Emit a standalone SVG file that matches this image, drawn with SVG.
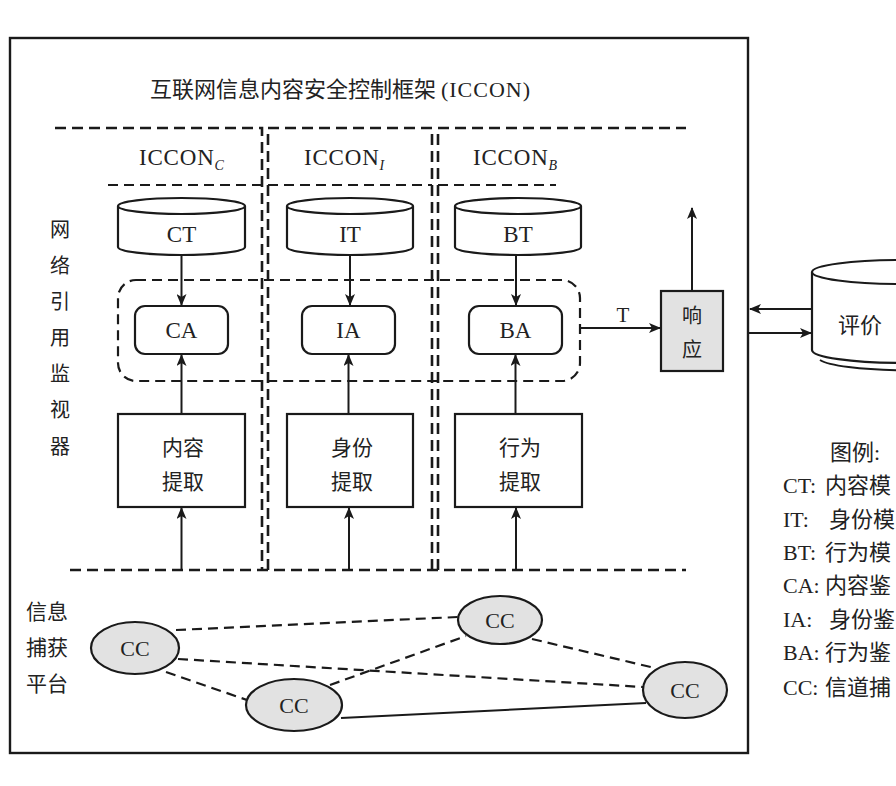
<svg xmlns="http://www.w3.org/2000/svg" width="896" height="786" viewBox="0 0 896 786">
<defs>
<style>
.ln{stroke:#1a1a1a;stroke-width:2;fill:none}
.ds{stroke:#1a1a1a;stroke-width:2.2;fill:none;stroke-dasharray:10 6}
.dsb{stroke:#1a1a1a;stroke-width:2.6;fill:none;stroke-dasharray:11 6}
.box{stroke:#1a1a1a;stroke-width:2.2;fill:#fff}
.gray{stroke:#1a1a1a;stroke-width:2.2;fill:#e2e2e2}
.se{font-family:"Liberation Serif","DejaVu Serif",serif;fill:#222}
.zh{font-family:"Noto Sans CJK SC","Noto Sans",sans-serif;fill:#222}
.arr{stroke:#1a1a1a;stroke-width:2;fill:none;marker-end:url(#ah)}
</style>
<marker id="ah" viewBox="0 0 12 10" refX="11" refY="5" markerWidth="12" markerHeight="10" markerUnits="userSpaceOnUse" orient="auto">
<path d="M0,0 L12,5 L0,10 L3,5 Z" fill="#1a1a1a"/>
</marker>
</defs>
<rect width="896" height="786" fill="#fff"/>
<rect id="frame" x="10" y="38" width="738" height="715" fill="none" stroke="#1a1a1a" stroke-width="2.4"/>

<g id="title"><text class="zh" x="150" y="97" font-size="22">互联网信息内容安全控制框架 <tspan class="se" letter-spacing="1">(ICCON)</tspan></text></g>

<g id="columns">
<path class="dsb" d="M55,128 H262 V570"/>
<path class="dsb" d="M268,570 V128 H432 V570"/>
<path class="dsb" d="M438,570 V128 H686"/>
<path class="ds" d="M108,185 H262 M268,185 H432 M438,185 H556"/>
<path class="dsb" d="M70,570 H686"/>
</g>

<g id="labels-col">
<text class="se" x="139" y="165" font-size="23" letter-spacing="0.8">ICCON<tspan font-size="14" font-style="italic" dy="5">C</tspan></text>
<text class="se" x="304" y="165" font-size="23" letter-spacing="0.8">ICCON<tspan font-size="14" font-style="italic" dy="5">I</tspan></text>
<text class="se" x="473" y="165" font-size="23" letter-spacing="0.8">ICCON<tspan font-size="14" font-style="italic" dy="5">B</tspan></text>
</g>

<g id="monitor-label" class="zh" font-size="20">
<text x="50" y="237">网</text><text x="50" y="273">络</text><text x="50" y="309">引</text><text x="50" y="345">用</text><text x="50" y="381">监</text><text x="50" y="417">视</text><text x="50" y="454">器</text>
</g>

<g id="CT">
<path class="box" d="M118,206 V247 A63.5,8 0 0 0 245,247 V206"/>
<ellipse class="box" cx="181.5" cy="206" rx="63.5" ry="8"/>
<text class="se" x="181.5" y="242" font-size="23" text-anchor="middle">CT</text>
</g>
<g id="IT">
<path class="box" d="M287,206 V247 A63,8 0 0 0 413,247 V206"/>
<ellipse class="box" cx="350" cy="206" rx="63" ry="8"/>
<text class="se" x="350" y="242" font-size="23" text-anchor="middle">IT</text>
</g>
<g id="BT">
<path class="box" d="M455,206 V247 A63,8 0 0 0 581,247 V206"/>
<ellipse class="box" cx="518" cy="206" rx="63" ry="8"/>
<text class="se" x="518" y="242" font-size="23" text-anchor="middle">BT</text>
</g>

<g id="analyzers">
<rect class="ds" x="118" y="280" width="462" height="101" rx="18"/>
</g>
<g id="CA">
<rect class="box" x="135" y="306" width="93" height="48" rx="10"/>
<text class="se" x="181.5" y="338" font-size="23" text-anchor="middle">CA</text>
</g>
<g id="IA">
<rect class="box" x="302" y="306" width="93" height="48" rx="10"/>
<text class="se" x="348.5" y="338" font-size="23" text-anchor="middle">IA</text>
</g>
<g id="BA">
<rect class="box" x="469" y="306" width="93" height="48" rx="10"/>
<text class="se" x="515.5" y="338" font-size="23" text-anchor="middle">BA</text>
</g>

<g id="ext-C">
<rect class="box" x="118" y="414" width="127" height="93"/>
<text class="zh" x="183" y="455" font-size="21" text-anchor="middle">内容</text>
<text class="zh" x="183" y="489" font-size="21" text-anchor="middle">提取</text>
</g>
<g id="ext-I">
<rect class="box" x="287" y="414" width="126" height="93"/>
<text class="zh" x="352" y="455" font-size="21" text-anchor="middle">身份</text>
<text class="zh" x="352" y="489" font-size="21" text-anchor="middle">提取</text>
</g>
<g id="ext-B">
<rect class="box" x="455" y="414" width="127" height="93"/>
<text class="zh" x="520" y="455" font-size="21" text-anchor="middle">行为</text>
<text class="zh" x="520" y="489" font-size="21" text-anchor="middle">提取</text>
</g>

<g id="response">
<rect class="gray" x="661" y="291" width="62" height="80"/>
<text class="zh" x="692" y="323" font-size="20" text-anchor="middle">响</text>
<text class="zh" x="692" y="357" font-size="20" text-anchor="middle">应</text>
</g>

<g id="eval">
<path class="box" d="M812,272 V350 A90,13 0 0 0 992,350 V272"/>
<path class="ln" d="M820,360 A90,13 0 0 0 992,362"/>
<ellipse class="box" cx="902" cy="272" rx="90" ry="12"/>
<text class="zh" x="838" y="333" font-size="22">评价</text>
</g>

<g id="connectors">
<line class="arr" x1="181.5" y1="255" x2="181.5" y2="305"/>
<line class="arr" x1="350" y1="255" x2="350" y2="305"/>
<line class="arr" x1="516" y1="255" x2="516" y2="305"/>
<line class="arr" x1="181.5" y1="414" x2="181.5" y2="355"/>
<line class="arr" x1="348.5" y1="414" x2="348.5" y2="355"/>
<line class="arr" x1="515.5" y1="414" x2="515.5" y2="355"/>
<line class="arr" x1="181.5" y1="570" x2="181.5" y2="508"/>
<line class="arr" x1="349" y1="570" x2="349" y2="508"/>
<line class="arr" x1="516" y1="570" x2="516" y2="508"/>
<line class="arr" x1="580" y1="328" x2="660" y2="328"/>
<text class="se" x="623" y="322" font-size="21" text-anchor="middle">T</text>
<line class="arr" x1="692" y1="291" x2="692" y2="208"/>
<line class="arr" x1="812" y1="309" x2="750" y2="309"/>
<line class="arr" x1="748" y1="333" x2="811" y2="333"/>
<line class="ds" x1="176" y1="630" x2="458" y2="617"/>
<line class="ds" x1="178" y1="659" x2="643" y2="687"/>
<line class="ds" x1="166" y1="672" x2="247" y2="700"/>
<line class="ds" x1="330" y1="685" x2="466" y2="636"/>
<line class="ds" x1="532" y1="639" x2="655" y2="668"/>
<line class="ln" x1="341" y1="718" x2="646" y2="703"/>
</g>

<g id="platform-label" class="zh" font-size="21">
<text x="26" y="619">信息</text><text x="26" y="655">捕获</text><text x="26" y="691">平台</text>
</g>

<g id="CC1"><ellipse class="gray" cx="135" cy="648" rx="44" ry="26"/><text class="se" x="135" y="656" font-size="22" text-anchor="middle">CC</text></g>
<g id="CC2"><ellipse class="gray" cx="500" cy="620" rx="42" ry="24"/><text class="se" x="500" y="628" font-size="22" text-anchor="middle">CC</text></g>
<g id="CC3"><ellipse class="gray" cx="294" cy="705" rx="48" ry="26"/><text class="se" x="294" y="713" font-size="22" text-anchor="middle">CC</text></g>
<g id="CC4"><ellipse class="gray" cx="685" cy="690" rx="42" ry="28"/><text class="se" x="685" y="698" font-size="22" text-anchor="middle">CC</text></g>

<g id="legend" font-size="22">
<text class="zh" x="830" y="460">图例<tspan class="se">:</tspan></text>
<text class="se" x="783" y="493">CT:</text><text class="zh" x="825" y="493">内容模</text>
<text class="se" x="783" y="527">IT:</text><text class="zh" x="829" y="527">身份模</text>
<text class="se" x="783" y="560">BT:</text><text class="zh" x="825" y="560">行为模</text>
<text class="se" x="783" y="593">CA:</text><text class="zh" x="825" y="593">内容鉴</text>
<text class="se" x="783" y="627">IA:</text><text class="zh" x="829" y="627">身份鉴</text>
<text class="se" x="783" y="660">BA:</text><text class="zh" x="825" y="660">行为鉴</text>
<text class="se" x="783" y="695">CC:</text><text class="zh" x="825" y="695">信道捕</text>
</g>
</svg>
